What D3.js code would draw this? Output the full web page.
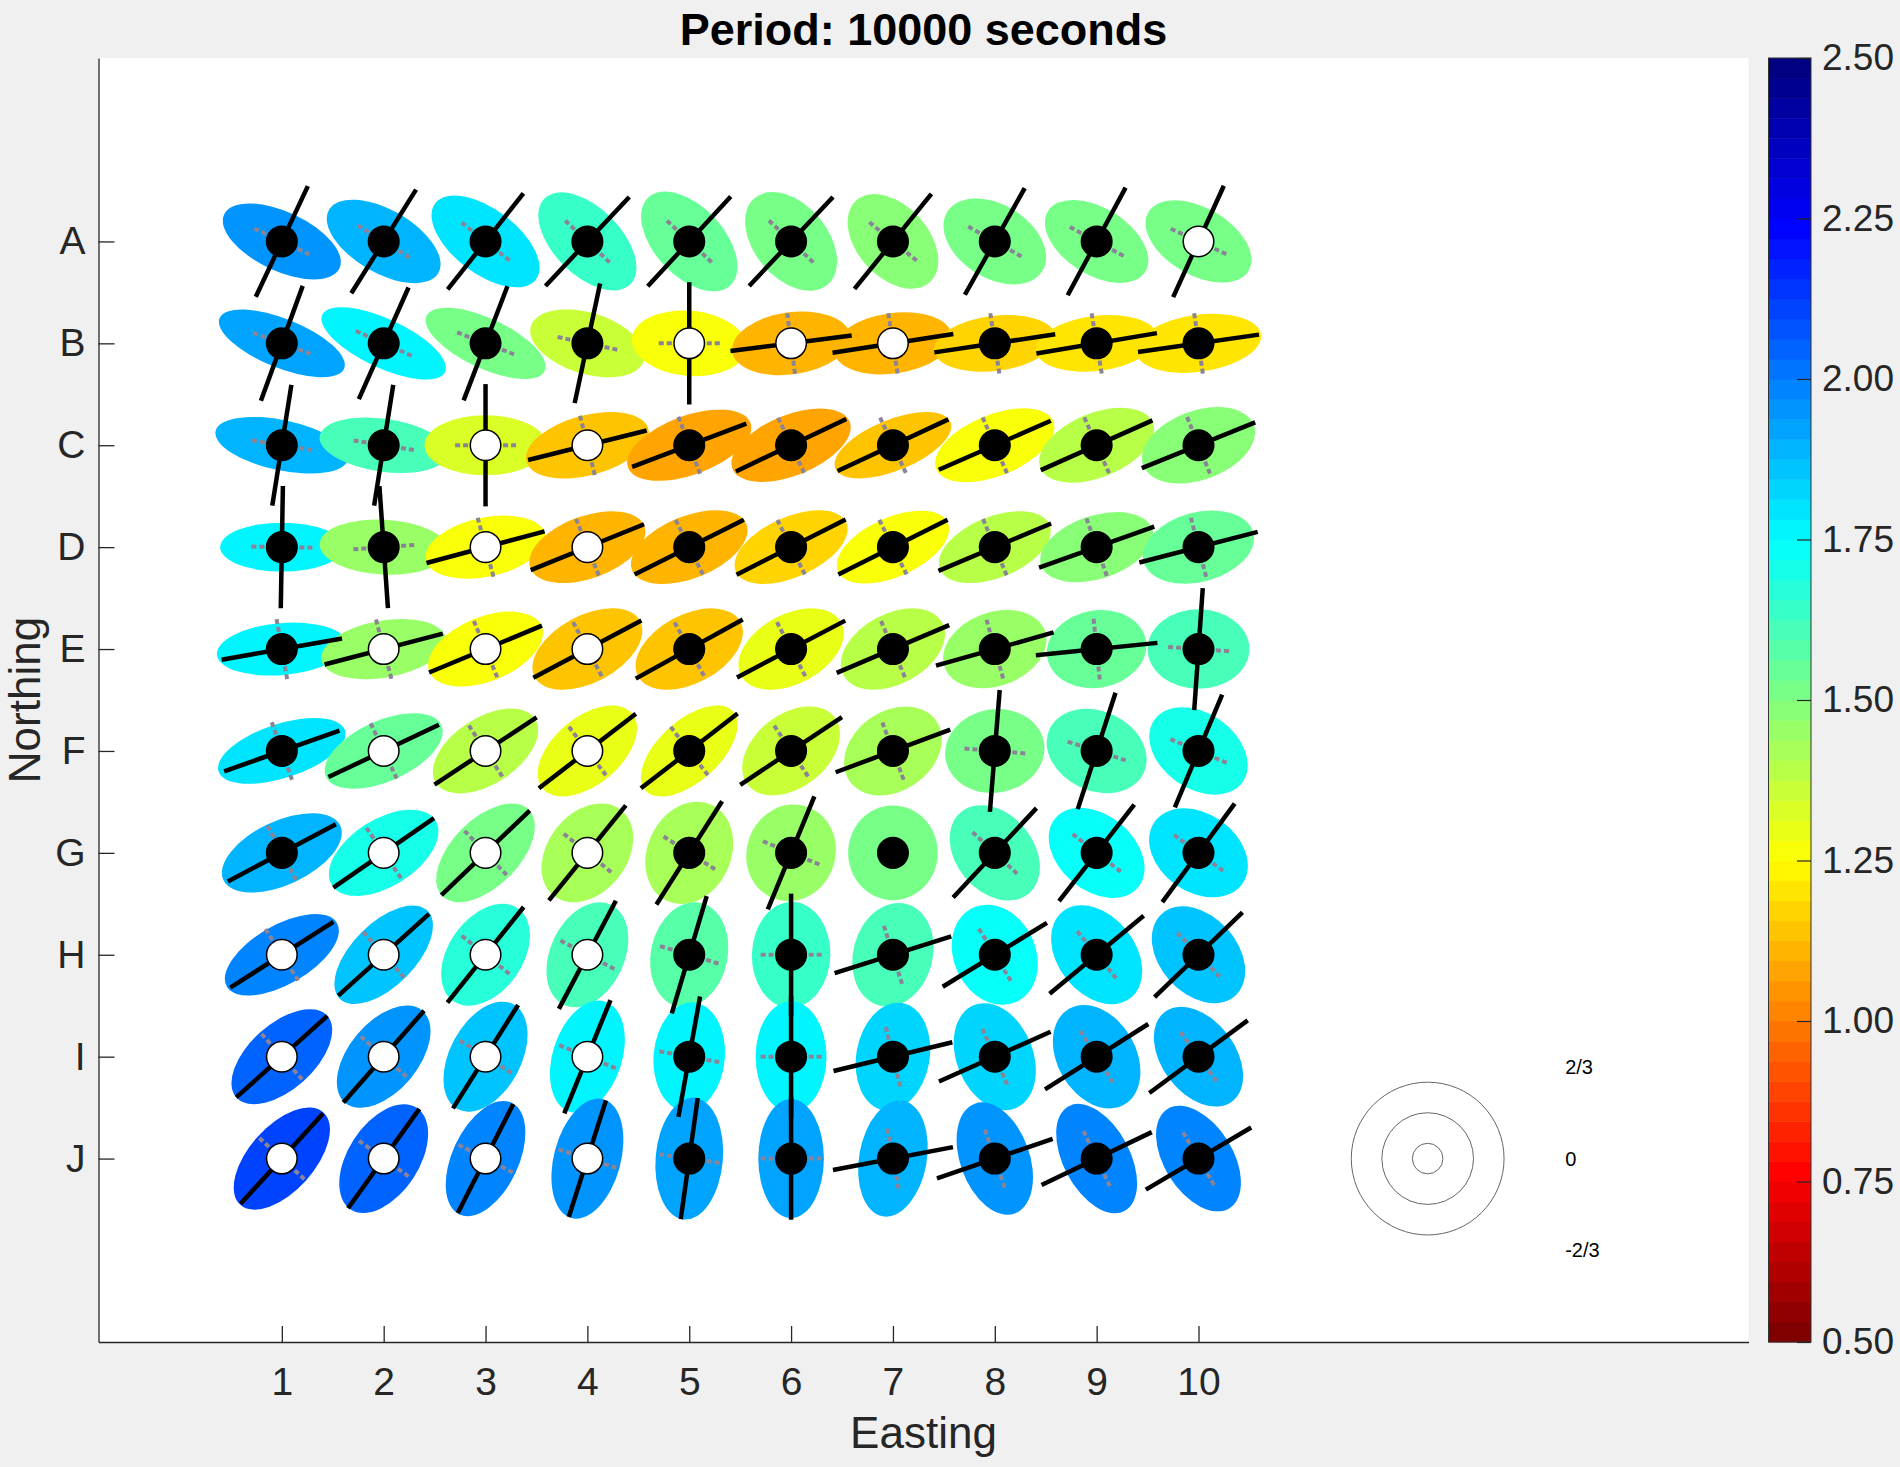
<!DOCTYPE html>
<html>
<head>
<meta charset="utf-8">
<script src="https://cdn.jsdelivr.net/npm/d3@7"></script>
<style>
  body { margin: 0; background: #f0f0f0; }
  svg { display: block; font-family: "Liberation Sans", Arial, Helvetica, sans-serif; }
</style>
</head>
<body>
<script>
// station grid
const rows = ['A', 'B', 'C', 'D', 'E', 'F', 'G', 'H', 'I', 'J'];
const cols = [1, 2, 3, 4, 5, 6, 7, 8, 9, 10];

// ellipse semi-major / semi-minor axis (grid units)
const ellMajor = [
  [0.625, 0.62, 0.62, 0.596, 0.59, 0.556, 0.54, 0.55, 0.563, 0.57],
  [0.66, 0.665, 0.64, 0.58, 0.565, 0.585, 0.585, 0.6, 0.6, 0.62],
  [0.665, 0.635, 0.6, 0.62, 0.64, 0.62, 0.61, 0.62, 0.595, 0.578],
  [0.605, 0.63, 0.6, 0.596, 0.605, 0.593, 0.59, 0.58, 0.574, 0.557],
  [0.64, 0.62, 0.595, 0.586, 0.569, 0.557, 0.55, 0.524, 0.492, 0.5],
  [0.653, 0.62, 0.579, 0.574, 0.579, 0.54, 0.518, 0.49, 0.51, 0.53],
  [0.633, 0.6, 0.6, 0.535, 0.52, 0.48, 0.465, 0.52, 0.53, 0.527],
  [0.624, 0.61, 0.555, 0.543, 0.521, 0.52, 0.516, 0.508, 0.54, 0.54],
  [0.6, 0.59, 0.583, 0.568, 0.535, 0.545, 0.534, 0.546, 0.543, 0.55],
  [0.61, 0.595, 0.605, 0.604, 0.6, 0.585, 0.576, 0.574, 0.583, 0.574]
];
const ellMinor = [
  [0.29, 0.31, 0.316, 0.33, 0.34, 0.36, 0.35, 0.36, 0.328, 0.33],
  [0.24, 0.24, 0.245, 0.30, 0.32, 0.305, 0.297, 0.27, 0.27, 0.28],
  [0.247, 0.26, 0.295, 0.295, 0.29, 0.297, 0.25, 0.3, 0.315, 0.34],
  [0.24, 0.27, 0.29, 0.306, 0.305, 0.295, 0.29, 0.3, 0.31, 0.342],
  [0.255, 0.28, 0.316, 0.329, 0.337, 0.342, 0.345, 0.362, 0.38, 0.39],
  [0.265, 0.298, 0.325, 0.33, 0.3, 0.36, 0.391, 0.41, 0.39, 0.37],
  [0.313, 0.33, 0.33, 0.39, 0.41, 0.435, 0.44, 0.38, 0.37, 0.385],
  [0.29, 0.31, 0.364, 0.364, 0.377, 0.385, 0.39, 0.402, 0.38, 0.38],
  [0.32, 0.34, 0.35, 0.34, 0.35, 0.348, 0.36, 0.375, 0.385, 0.36],
  [0.32, 0.348, 0.326, 0.328, 0.33, 0.322, 0.332, 0.34, 0.326, 0.336]
];
// ellipse orientation, degrees counter-clockwise from east
const ellAngle = [
  [-25, -30, -37, -45, -47, -50, -48, -32, -32, -30],
  [-22, -25, -25, -17, -5, 8, 8, 7, 7, 8],
  [-12, -8, 0, 15, 20, 22, 22, 22, 22, 20],
  [0, -3, 12, 20, 22, 24, 24, 22, 18, 15],
  [5, 10, 22, 28, 28, 28, 28, 20, 10, 0],
  [18, 24, 33, 40, 42, 38, 35, 10, -25, -35],
  [25, 32, 45, 52, 65, 70, 90, -50, -40, -35],
  [30, 45, 55, 65, 78, 88, 75, -65, -52, -48],
  [42, 50, 62, 72, 85, 90, 80, -68, -60, -53],
  [48, 57, 65, 75, 85, 90, 80, -70, -62, -58]
];
// colour value
const ellValue = [
  [1.95, 1.9, 1.8, 1.625, 1.55, 1.5, 1.48, 1.5, 1.5, 1.5],
  [1.93, 1.77, 1.52, 1.36, 1.25, 1.115, 1.12, 1.17, 1.19, 1.21],
  [1.875, 1.6, 1.32, 1.13, 1.08, 1.08, 1.15, 1.28, 1.38, 1.48],
  [1.77, 1.45, 1.25, 1.1, 1.1, 1.16, 1.28, 1.38, 1.47, 1.56],
  [1.78, 1.45, 1.28, 1.14, 1.14, 1.29, 1.38, 1.45, 1.55, 1.6],
  [1.8, 1.55, 1.4, 1.3, 1.3, 1.37, 1.43, 1.5, 1.6, 1.7],
  [1.9, 1.7, 1.52, 1.43, 1.42, 1.45, 1.52, 1.6, 1.74, 1.79],
  [1.98, 1.87, 1.68, 1.62, 1.58, 1.65, 1.62, 1.72, 1.8, 1.87],
  [2.04, 1.95, 1.85, 1.78, 1.76, 1.78, 1.82, 1.84, 1.88, 1.9],
  [2.12, 2.04, 1.98, 1.95, 1.93, 1.93, 1.9, 1.95, 1.98, 1.97]
];
// black bar direction, degrees counter-clockwise from east (null = none)
const barAngle = [
  [64.8, 58, 51.7, 46.7, 47.2, 46.7, 51, 60.7, 61.7, 65.5],
  [70, 66, 69, 78, 90, 7.3, 8.8, 8.5, 9.6, 8.2],
  [81, 81, 90, 14, 20.8, 25.4, 25, 23.6, 24, 22],
  [89, 94, 15, 22, 26.6, 26.8, 26.6, 22.8, 19.5, 14.5],
  [10, 14.6, 22.6, 27.9, 28.9, 27.7, 23, 15.8, 5.8, 86],
  [19.4, 25.3, 33.3, 37.5, 37.7, 33.7, 20.4, 85.4, 72, 67.2],
  [27.9, 34.6, 43.7, 51, 57.5, 67.6, null, 47, 52, 53.7],
  [32.5, 42, 51.4, 62.2, 73.4, 90, 17.4, 31.5, 39.7, 44],
  [41.8, 48.7, 57.8, 67.8, 79.8, 90, 13.6, 24, 32.3, 36.4],
  [47.6, 54.3, 63, 72.3, 82, 90, 10.8, 18.8, 25.6, 30.5]
];
// centre marker: 1 = open (white), 0 = filled (black)
const openMarker = [
  [0, 0, 0, 0, 0, 0, 0, 0, 0, 1],
  [0, 0, 0, 0, 1, 1, 1, 0, 0, 0],
  [0, 0, 1, 1, 0, 0, 0, 0, 0, 0],
  [0, 0, 1, 1, 0, 0, 0, 0, 0, 0],
  [0, 1, 1, 1, 0, 0, 0, 0, 0, 0],
  [0, 1, 1, 1, 0, 0, 0, 0, 0, 0],
  [0, 1, 1, 1, 0, 0, 0, 0, 0, 0],
  [1, 1, 1, 1, 0, 0, 0, 0, 0, 0],
  [1, 1, 1, 1, 0, 0, 0, 0, 0, 0],
  [1, 1, 1, 1, 0, 0, 0, 0, 0, 0]
];
const colorTicks = [0.5, 0.75, 1.0, 1.25, 1.5, 1.75, 2.0, 2.25, 2.5];
const keyRadii = [0.15, 0.45, 0.75];
const keyLabels = ['2/3', '0', '-2/3'];

const barHalf = 0.6, crossHalf = 0.3, dotR = 0.15;

const svg = d3.select('body').append('svg')
  .attr('width', 1900)
  .attr('height', 1467);

const x = d3.scaleLinear().domain([-0.8, 15.4]).range([98.5, 1748.5]);
const y = d3.scaleLinear().domain([-1.8, 10.8]).range([58, 1342]);
const unit = x(1) - x(0);

// jet colormap, reversed so high values are blue
function jet(t) {
  const c = v => Math.max(0, Math.min(1, v));
  return d3.rgb(255 * c(1.5 - Math.abs(4 * t - 3)),
                255 * c(1.5 - Math.abs(4 * t - 2)),
                255 * c(1.5 - Math.abs(4 * t - 1))).formatHex();
}
const color = d3.scaleQuantize()
  .domain([0.5, 2.5])
  .range(d3.range(64).map(i => jet(1 - i / 63)));

svg.append('rect')
  .attr('x', x.range()[0]).attr('y', y.range()[0])
  .attr('width', x.range()[1] - x.range()[0])
  .attr('height', y.range()[1] - y.range()[0])
  .attr('fill', '#fff');

const cells = [];
rows.forEach((r, i) => cols.forEach((c, j) => cells.push({ i, j, c })));

const plot = svg.append('g');

// ellipses
plot.selectAll('.ell')
  .data(cells)
  .enter()
  .append('ellipse')
  .attr('cx', d => x(d.c))
  .attr('cy', d => y(d.i))
  .attr('rx', d => unit * ellMajor[d.i][d.j])
  .attr('ry', d => unit * ellMinor[d.i][d.j])
  .attr('transform', d => `rotate(${-ellAngle[d.i][d.j]},${x(d.c)},${y(d.i)})`)
  .attr('fill', d => color(ellValue[d.i][d.j]));

const withBar = cells.filter(d => barAngle[d.i][d.j] !== null);
const rad = a => a * Math.PI / 180;

// grey dashed cross-line, perpendicular to the bar
plot.selectAll('.cross')
  .data(withBar)
  .enter()
  .append('line')
  .attr('x1', d => x(d.c - crossHalf * Math.cos(rad(barAngle[d.i][d.j] + 90))))
  .attr('y1', d => y(d.i + crossHalf * Math.sin(rad(barAngle[d.i][d.j] + 90))))
  .attr('x2', d => x(d.c + crossHalf * Math.cos(rad(barAngle[d.i][d.j] + 90))))
  .attr('y2', d => y(d.i - crossHalf * Math.sin(rad(barAngle[d.i][d.j] + 90))))
  .attr('stroke', '#8a8496')
  .attr('stroke-width', 4)
  .attr('stroke-dasharray', '5,3');

// black bars
plot.selectAll('.bar')
  .data(withBar)
  .enter()
  .append('line')
  .attr('x1', d => x(d.c - barHalf * Math.cos(rad(barAngle[d.i][d.j]))))
  .attr('y1', d => y(d.i + barHalf * Math.sin(rad(barAngle[d.i][d.j]))))
  .attr('x2', d => x(d.c + barHalf * Math.cos(rad(barAngle[d.i][d.j]))))
  .attr('y2', d => y(d.i - barHalf * Math.sin(rad(barAngle[d.i][d.j]))))
  .attr('stroke', '#000')
  .attr('stroke-width', 4.5);

// centre markers
plot.selectAll('.dot')
  .data(cells)
  .enter()
  .append('circle')
  .attr('cx', d => x(d.c))
  .attr('cy', d => y(d.i))
  .attr('r', unit * dotR)
  .attr('fill', d => openMarker[d.i][d.j] ? '#fff' : '#000')
  .attr('stroke', '#000')
  .attr('stroke-width', 1.5);

// key circles
const keyX = 12.25, keyY = 9;
plot.selectAll('.key')
  .data(keyRadii)
  .enter()
  .append('circle')
  .attr('cx', x(keyX))
  .attr('cy', y(keyY))
  .attr('r', d => unit * d)
  .attr('fill', 'none')
  .attr('stroke', '#666')
  .attr('stroke-width', 1);

plot.selectAll('.keylabel')
  .data(keyLabels)
  .enter()
  .append('text')
  .attr('x', x(keyX + 1.35))
  .attr('y', (d, i) => y(keyY - 0.9 + 0.9 * i))
  .attr('dy', '0.35em')
  .style('font-size', '20px')
  .attr('fill', '#000')
  .text(d => d);

// axes
const xAxis = d3.axisBottom(x)
  .tickValues(cols)
  .tickSizeInner(-16)
  .tickSizeOuter(0)
  .tickPadding(25);
const gx = svg.append('g')
  .attr('transform', `translate(0,${y.range()[1]})`)
  .call(xAxis);

const yAxis = d3.axisLeft(y)
  .tickValues(d3.range(rows.length))
  .tickFormat(i => rows[i])
  .tickSizeInner(-16)
  .tickSizeOuter(0)
  .tickPadding(13);
const gy = svg.append('g')
  .attr('transform', `translate(${x.range()[0]},0)`)
  .call(yAxis);

[gx, gy].forEach(g => {
  g.selectAll('path, line').attr('stroke', '#262626').attr('stroke-width', 1.3);
  g.selectAll('text').attr('fill', '#262626').style('font-size', '39px');
  g.attr('font-family', null).attr('font-size', null);
});

svg.append('text')
  .attr('x', 923.5)
  .attr('y', 1448)
  .attr('text-anchor', 'middle')
  .attr('fill', '#262626')
  .style('font-size', '44px')
  .text('Easting');

svg.append('text')
  .attr('transform', 'translate(40,700) rotate(-90)')
  .attr('text-anchor', 'middle')
  .attr('fill', '#262626')
  .style('font-size', '44px')
  .text('Northing');

svg.append('text')
  .attr('x', 923.5)
  .attr('y', 45)
  .attr('text-anchor', 'middle')
  .attr('fill', '#000')
  .style('font-size', '45px')
  .style('font-weight', 'bold')
  .text('Period: 10000 seconds');

// colorbar
const cb = { x0: 1768.5, x1: 1811 };
const cy = d3.scaleLinear().domain([0.5, 2.5]).range([1342, 58]);
const gcb = svg.append('g');
gcb.selectAll('rect')
  .data(color.range())
  .enter()
  .append('rect')
  .attr('x', cb.x0)
  .attr('width', cb.x1 - cb.x0)
  .attr('y', d => cy(color.invertExtent(d)[1]))
  .attr('height', d => cy(color.invertExtent(d)[0]) - cy(color.invertExtent(d)[1]) + 0.5)
  .attr('fill', d => d);
gcb.append('rect')
  .attr('x', cb.x0).attr('y', 58)
  .attr('width', cb.x1 - cb.x0).attr('height', 1342 - 58)
  .attr('fill', 'none')
  .attr('stroke', '#333')
  .attr('stroke-width', 1);

const cbMarks = svg.append('g')
  .attr('transform', `translate(${cb.x1},0)`)
  .call(d3.axisLeft(cy).tickValues(colorTicks).tickSize(14).tickFormat(''));
cbMarks.select('.domain').remove();
cbMarks.selectAll('line').attr('stroke', '#262626').attr('stroke-width', 1.2);

const cbLabels = svg.append('g')
  .attr('transform', `translate(${cb.x1},0)`)
  .call(d3.axisRight(cy).tickValues(colorTicks).tickSize(0).tickPadding(11).tickFormat(d3.format('.2f')));
cbLabels.select('.domain').remove();
cbLabels.attr('font-family', null).attr('font-size', null);
cbLabels.selectAll('text').attr('fill', '#262626').style('font-size', '37px');
</script>
</body>
</html>
